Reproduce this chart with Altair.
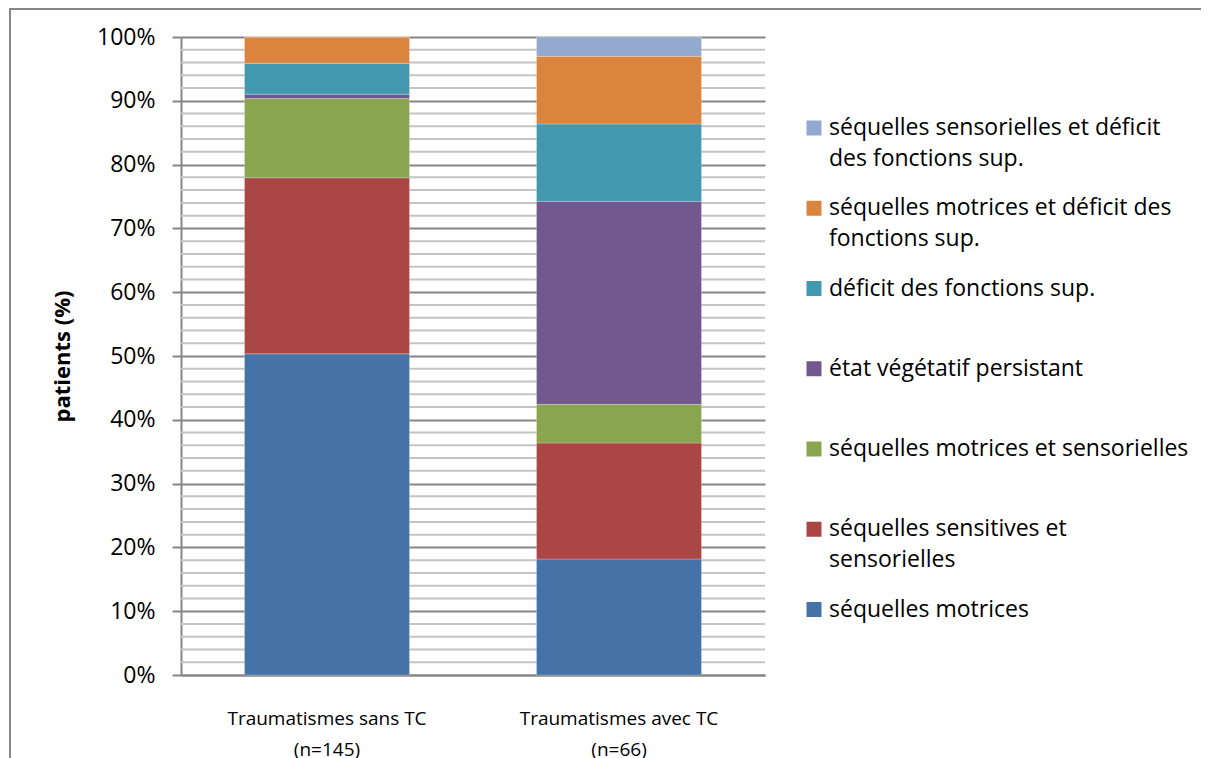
import altair as alt
import pandas as pd

# ---- data ----
categories = ["Traumatismes sans TC (n=145)", "Traumatismes avec TC (n=66)"]
series = [
    "séquelles motrices",
    "séquelles sensitives et sensorielles",
    "séquelles motrices et sensorielles",
    "état végétatif persistant",
    "déficit des fonctions sup.",
    "séquelles motrices et déficit des fonctions sup.",
    "séquelles sensorielles et déficit des fonctions sup.",
]
counts_sans_tc = [73, 40, 18, 1, 7, 6, 0]
counts_avec_tc = [12, 12, 4, 21, 8, 7, 2]
colors = ["#4572A7", "#AA4643", "#89A54E", "#71588F", "#4198AF", "#DB843D", "#93A9CF"]
legend_line1 = [
    "séquelles motrices",
    "séquelles sensitives et",
    "séquelles motrices et sensorielles",
    "état végétatif persistant",
    "déficit des fonctions sup.",
    "séquelles motrices et déficit des",
    "séquelles sensorielles et déficit",
]
legend_line2 = ["", "sensorielles", "", "", "", "fonctions sup.", "des fonctions sup."]
major_ticks = [0, 0.1, 0.2, 0.3, 0.4, 0.5, 0.6, 0.7, 0.8, 0.9, 1.0]
minor_grid = [i / 50 for i in range(1, 50) if i % 5 != 0]

rows = []
for cat, counts in zip(categories, [counts_sans_tc, counts_avec_tc]):
    for i, (s, c) in enumerate(zip(series, counts)):
        rows.append({"categorie": cat, "serie": s, "n": c, "ordre": i})
bars_df = pd.DataFrame(rows)
legend_df = pd.DataFrame({"serie": series, "l1": legend_line1, "l2": legend_line2})
minor_df = pd.DataFrame({"v": minor_grid})

FONT = "Open Sans"
GRID_MAJOR = "#868686"
GRID_MINOR = "#C4C4C4"
W, H = 584, 638
legend_order = series[::-1]

color_scale = alt.Scale(domain=series, range=colors)
y_scale = alt.Scale(domain=[0, 1], nice=False)
legend_y = alt.Scale(type="point", domain=legend_order, range=[91, 572.5], padding=0)

# outer frame of the chart (only its top and left edges are inside the picture)
frame_top = alt.Chart(alt.Data(values=[{}])).mark_rule(color=GRID_MAJOR, strokeWidth=2).encode(
    x=alt.value(-172), x2=alt.value(1020), y=alt.value(-28)
)
frame_left = alt.Chart(alt.Data(values=[{}])).mark_rule(color=GRID_MAJOR, strokeWidth=2).encode(
    x=alt.value(-171), y=alt.value(-29), y2=alt.value(900)
)

minor = alt.Chart(minor_df).mark_rule(color=GRID_MINOR, strokeWidth=2).encode(
    y=alt.Y("v:Q", scale=y_scale, axis=None),
    x=alt.value(0),
    x2=alt.value(W),
)

bars = alt.Chart(bars_df).mark_bar(stroke="#ffffff", strokeWidth=0.8, strokeOpacity=0.3).encode(
    x=alt.X(
        "categorie:N",
        sort=categories,
        scale=alt.Scale(paddingInner=0.435, paddingOuter=0.2175),
        axis=alt.Axis(
            title=None,
            labelAngle=0,
            ticks=False,
            tickSize=0,
            labelPadding=34,
            labelFontSize=19,
            labelLineHeight=31,
            labelLimit=500,
            labelColor="#000000",
            labelFont=FONT,
            domainColor=GRID_MAJOR,
            domainWidth=2,
            labelExpr="[substring(datum.label, 0, indexof(datum.label, ' (')), substring(datum.label, indexof(datum.label, ' (') + 1)]",
        ),
    ),
    y=alt.Y(
        "n:Q",
        stack="normalize",
        scale=y_scale,
        axis=alt.Axis(
            title="patients (%)",
            values=major_ticks,
            format=".0%",
            labelFontSize=23,
            labelFont=FONT,
            labelColor="#000000",
            labelPadding=17,
            tickSize=9,
            tickColor=GRID_MAJOR,
            tickWidth=2,
            domainColor=GRID_MAJOR,
            domainWidth=2,
            grid=True,
            gridColor=GRID_MAJOR,
            gridWidth=2,
            titleFont=FONT,
            titleFontSize=22,
            titleFontWeight="bold",
            titleColor="#000000",
            titleAngle=270,
            titleX=-119,
            titleY=H / 2,
            titleAlign="center",
            titleBaseline="middle",
        ),
    ),
    color=alt.Color("serie:N", scale=color_scale, legend=None),
    order=alt.Order("ordre:Q", sort="ascending"),
)

leg_sq = alt.Chart(legend_df).mark_square(size=225, opacity=1).encode(
    x=alt.value(633),
    y=alt.Y("serie:N", scale=legend_y, axis=None),
    color=alt.Color("serie:N", scale=color_scale, legend=None),
)
leg_t1 = alt.Chart(legend_df).mark_text(
    align="left", baseline="middle", fontSize=23, font=FONT, color="#000000"
).encode(
    x=alt.value(648),
    y=alt.Y("serie:N", scale=legend_y, axis=None),
    text="l1:N",
)
leg_t2 = alt.Chart(legend_df).mark_text(
    align="left", baseline="middle", fontSize=23, font=FONT, color="#000000", dy=31
).encode(
    x=alt.value(648),
    y=alt.Y("serie:N", scale=legend_y, axis=None),
    text="l2:N",
)

chart = (
    alt.layer(frame_top, frame_left, minor, bars, leg_sq, leg_t1, leg_t2)
    .resolve_scale(y="independent")
    .properties(
        width=W,
        height=H,
        autosize=alt.AutoSizeParams(type="none"),
        padding={"left": 173, "top": 29, "right": 443, "bottom": 83},
        background="#ffffff",
    )
    .configure_view(stroke=None)
)

chart.save("out.html", embed_options={"renderer": "svg", "actions": False})
